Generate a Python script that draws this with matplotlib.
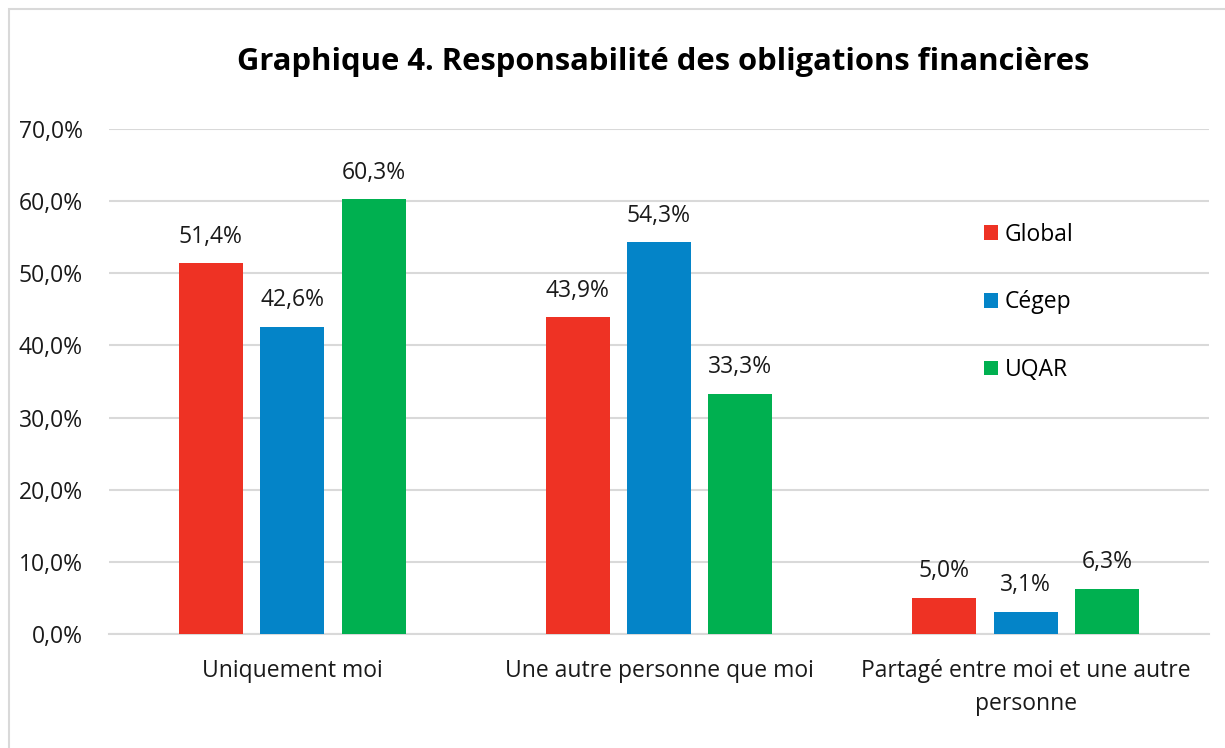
import numpy as np
import matplotlib
matplotlib.use("Agg")
from matplotlib import pyplot as plt
from matplotlib.patches import Rectangle
from matplotlib.ticker import FuncFormatter

categories = ["Uniquement moi", "Une autre personne que moi",
              "Partagé entre moi et une autre\npersonne"]
series = ["Global", "Cégep", "UQAR"]
global_vals = [51.4, 43.9, 5.0]
cegep_vals = [42.6, 54.3, 3.1]
uqar_vals = [60.3, 33.3, 6.3]
colors = ["#ee3224", "#0484c8", "#00b050"]

plt.rcParams["font.family"] = ["Open Sans", "DejaVu Sans"]

fig = plt.figure(figsize=(12.25, 7.48), dpi=100)
ax = fig.add_axes([109 / 1225, 1 - 634 / 748, 1100 / 1225, 505 / 748])

x = np.arange(len(categories))
width = 0.1745
pitch = 0.222
for i, (name, vals) in enumerate(zip(series, [global_vals, cegep_vals, uqar_vals])):
    pos = x + (i - 1) * pitch
    bars = ax.bar(pos, vals, width, color=colors[i], label=name, zorder=3)
    for b, v in zip(bars, vals):
        ax.text(b.get_x() + b.get_width() / 2, v + 2.0,
                f"{v:.1f}%".replace(".", ","), ha="center", va="bottom",
                fontsize=16.5, color="#1a1a1a")

ax.set_xlim(-0.5, 2.5)
ax.set_ylim(0, 70)
ax.set_yticks(np.arange(0, 71, 10))
ax.yaxis.set_major_formatter(FuncFormatter(lambda v, p: f"{v:.1f}%".replace(".", ",")))
ax.set_xticks(x)
ax.set_xticklabels(categories, linespacing=1.5)
ax.tick_params(axis="both", length=0, labelsize=16.5, colors="#1a1a1a")
ax.tick_params(axis="x", pad=18)
ax.tick_params(axis="y", pad=19)
ax.grid(axis="y", color="#d9d9d9", linewidth=1.5, zorder=0)
for s in ["top", "right", "left"]:
    ax.spines[s].set_visible(False)
ax.spines["bottom"].set_color("#d9d9d9")
ax.spines["bottom"].set_linewidth(1.5)

leg = ax.legend(loc="upper left", bbox_to_anchor=(0.777, 0.855), frameon=False,
                fontsize=16.5, handlelength=0.6, handleheight=0.6,
                handletextpad=0.3, labelspacing=1.9)

fig.text(663 / 1225, 1 - 62 / 748, "Graphique 4. Responsabilité des obligations financières",
         ha="center", va="center", fontsize=22.3, fontweight="bold", color="#000000")

fig.patches.append(Rectangle((9 / 1225, -0.1), 1.2, 1 - 9 / 748 + 0.1,
                             transform=fig.transFigure, fill=False,
                             edgecolor="#d9d9d9", linewidth=1.5))

fig.savefig("out.png", dpi=100)
